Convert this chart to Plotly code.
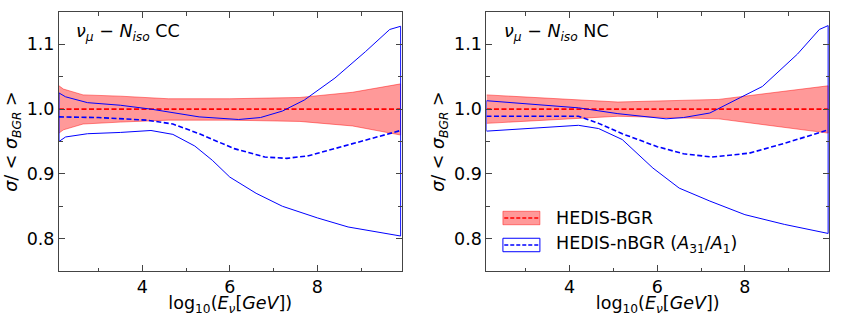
import plotly.graph_objects as go
from plotly.subplots import make_subplots

# ---------------- data ----------------
x_range = [2.1, 9.92]

# CC panel
cc_band_x = [2.1, 2.2, 2.65, 3.5, 4.6, 6.0, 7.6, 8.8, 9.9]
cc_band_hi = [1.036, 1.031, 1.022, 1.020, 1.016, 1.016, 1.018, 1.026, 1.039]
cc_band_lo = [0.963, 0.968, 0.977, 0.980, 0.983, 0.983, 0.981, 0.974, 0.960]

cc_up_x = [2.1, 2.25, 2.75, 3.5, 4.2, 4.8, 5.3, 6.2, 6.7, 7.2, 7.7, 8.4, 9.1, 9.65, 9.9]
cc_up_y = [1.025, 1.019, 1.010, 1.006, 1.000, 0.993, 0.988, 0.984, 0.987, 0.997, 1.014, 1.048, 1.089, 1.123, 1.128]
cc_lo_x = [2.1, 2.25, 2.75, 3.5, 4.2, 4.7, 5.2, 5.6, 6.0, 6.6, 7.2, 8.0, 8.7, 9.4, 9.9]
cc_lo_y = [0.950, 0.957, 0.962, 0.964, 0.967, 0.961, 0.943, 0.921, 0.895, 0.870, 0.850, 0.832, 0.818, 0.810, 0.804]
cc_mid_x = [2.1, 3.0, 4.1, 4.7, 5.3, 6.1, 6.8, 7.3, 7.8, 8.7, 9.9]
cc_mid_y = [0.988, 0.987, 0.983, 0.977, 0.962, 0.939, 0.926, 0.924, 0.928, 0.945, 0.967]

# NC panel
nc_band_x = [2.1, 5.1, 7.4, 9.9]
nc_band_hi = [1.022, 1.011, 1.015, 1.036]
nc_band_lo = [0.978, 0.989, 0.985, 0.963]

nc_up_x = [2.1, 3.0, 4.2, 5.1, 6.2, 6.6, 7.2, 7.9, 8.4, 9.2, 9.7, 9.9]
nc_up_y = [1.013, 1.008, 1.002, 0.993, 0.985, 0.987, 0.994, 1.018, 1.035, 1.085, 1.123, 1.129]
nc_lo_x = [2.1, 4.2, 4.66, 5.2, 5.45, 5.9, 6.5, 7.2, 8.0, 8.9, 9.9]
nc_lo_y = [0.966, 0.975, 0.970, 0.953, 0.937, 0.909, 0.878, 0.858, 0.837, 0.822, 0.808]
nc_mid_x = [2.1, 4.2, 4.66, 5.2, 6.0, 6.6, 7.25, 8.1, 8.9, 9.9]
nc_mid_y = [0.989, 0.989, 0.978, 0.962, 0.942, 0.931, 0.926, 0.932, 0.947, 0.968]

panel_titles = ["<i>ν</i><sub><i>μ</i></sub> − <i>N</i><sub><i>iso</i></sub> CC",
                "<i>ν</i><sub><i>μ</i></sub> − <i>N</i><sub><i>iso</i></sub> NC"]
legend_labels = ["HEDIS-BGR", "HEDIS-nBGR (<i>A</i><sub>31</sub>/<i>A</i><sub>1</sub>)"]
y_ticks = [0.8, 0.9, 1.0, 1.1]
x_ticks = [4, 6, 8]

# ---------------- figure ----------------
FONT = "DejaVu Sans"
FS = 17.5
RED_FILL = "rgba(255,0,0,0.4)"
BLUE = "#0000ff"

fig = make_subplots(rows=1, cols=2, horizontal_spacing=0.1103)

panels = [
    (cc_band_x, cc_band_hi, cc_band_lo, cc_up_x, cc_up_y, cc_lo_x, cc_lo_y, cc_mid_x, cc_mid_y),
    (nc_band_x, nc_band_hi, nc_band_lo, nc_up_x, nc_up_y, nc_lo_x, nc_lo_y, nc_mid_x, nc_mid_y),
]

for i, (bx, bh, bl, ux, uy, lx, ly, mx, my) in enumerate(panels):
    col = i + 1
    # BGR band
    fig.add_trace(go.Scatter(
        x=bx + bx[::-1], y=bh + bl[::-1], fill="toself", fillcolor=RED_FILL,
        line=dict(color="rgba(255,0,0,0.45)", width=1), mode="lines",
        showlegend=False, hoverinfo="skip"), row=1, col=col)
    fig.add_trace(go.Scatter(
        x=[bx[0], bx[-1]], y=[1.0, 1.0], mode="lines",
        line=dict(color="#ff0000", width=1.6, dash="5px,2.5px"),
        showlegend=False), row=1, col=col)
    # nBGR envelope (closed outline)
    fig.add_trace(go.Scatter(
        x=ux + lx[::-1] + [ux[0]], y=uy + ly[::-1] + [uy[0]], mode="lines",
        line=dict(color=BLUE, width=1), showlegend=False), row=1, col=col)
    fig.add_trace(go.Scatter(
        x=mx, y=my, mode="lines",
        line=dict(color=BLUE, width=1.6, dash="5px,2.5px"),
        showlegend=False), row=1, col=col)

axis_common = dict(
    showline=True, linecolor="#444", linewidth=1, mirror="ticks",
    ticks="inside", ticklen=6, tickwidth=1, tickcolor="#444",
    showgrid=False, zeroline=False, automargin=False,
    tickfont=dict(family=FONT, size=FS, color="black"),
)

for col in (1, 2):
    fig.update_xaxes(range=x_range, tickvals=x_ticks, ticktext=[str(t) for t in x_ticks],
                     minor=dict(tickvals=[3, 5, 7, 9], ticklen=3.5, tickcolor="#444", ticks="inside"),
                     title=dict(text="log<sub>10</sub>(<i>E</i><sub><i>ν</i></sub>[<i>GeV</i>])",
                                font=dict(family=FONT, size=FS, color="black"), standoff=2),
                     row=1, col=col, **axis_common)
    fig.update_yaxes(range=[0.75, 1.15], tickvals=y_ticks, ticktext=["0.8", "0.9", "1.0", "1.1"],
                     minor=dict(tickvals=[0.75, 0.85, 0.95, 1.05, 1.15], ticklen=3.5, tickcolor="#444", ticks="inside"),
                     title=dict(text="<i>σ</i>/ &lt; <i>σ</i><sub><i>BGR</i></sub> &gt;",
                                font=dict(family=FONT, size=FS, color="black"), standoff=4),
                     row=1, col=col, **axis_common)

# panel labels
for i, t in enumerate(panel_titles):
    ref = "x domain" if i == 0 else "x2 domain"
    yref = "y domain" if i == 0 else "y2 domain"
    fig.add_annotation(text=t, xref=ref, yref=yref, x=0.045, y=0.92,
                       xanchor="left", yanchor="middle", showarrow=False,
                       font=dict(family=FONT, size=17.5, color="black"))

# manual legend in right panel
sw_x0, sw_x1 = 0.048, 0.156
rows_y = [0.2046, 0.1004]
half_h = 0.026
fig.add_shape(type="rect", xref="x2 domain", yref="y2 domain",
              x0=sw_x0, x1=sw_x1, y0=rows_y[0] - half_h, y1=rows_y[0] + half_h,
              fillcolor=RED_FILL, line=dict(color="rgba(255,0,0,0.45)", width=1))
fig.add_shape(type="line", xref="x2 domain", yref="y2 domain",
              x0=sw_x0 + 0.004, x1=sw_x1 - 0.004, y0=rows_y[0], y1=rows_y[0],
              line=dict(color="#ff0000", width=1.4, dash="4px,2px"))
fig.add_shape(type="rect", xref="x2 domain", yref="y2 domain",
              x0=sw_x0, x1=sw_x1, y0=rows_y[1] - half_h, y1=rows_y[1] + half_h,
              fillcolor="rgba(0,0,0,0)", line=dict(color=BLUE, width=1))
fig.add_shape(type="line", xref="x2 domain", yref="y2 domain",
              x0=sw_x0 + 0.004, x1=sw_x1 - 0.004, y0=rows_y[1], y1=rows_y[1],
              line=dict(color=BLUE, width=1.4, dash="4px,2px"))
for lbl, yy in zip(legend_labels, rows_y):
    fig.add_annotation(text=lbl, xref="x2 domain", yref="y2 domain", x=0.198, y=yy,
                       xanchor="left", yanchor="middle", showarrow=False,
                       font=dict(family=FONT, size=17.5, color="black"))

fig.update_layout(
    width=842, height=316,
    margin=dict(l=59, r=13, t=12, b=45),
    plot_bgcolor="white", paper_bgcolor="white",
    font=dict(family=FONT, size=FS, color="black"),
    showlegend=False,
)

fig.write_html("out.html", config={"displayModeBar": False},
               post_script="document.body.style.margin='0';document.body.style.overflow='hidden';")
